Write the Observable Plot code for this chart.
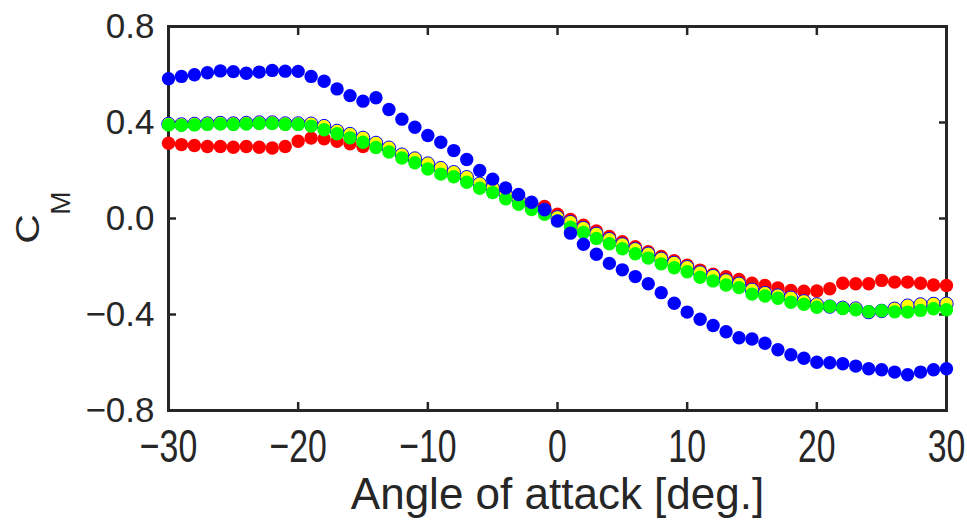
<!DOCTYPE html>
<html><head><meta charset="utf-8">
<script src="https://cdn.jsdelivr.net/npm/d3@7"></script>
<script src="https://cdn.jsdelivr.net/npm/@observablehq/plot@0.6"></script>
<style>body{margin:0;background:#fff} svg{display:block}</style>
</head><body><div id="chart"></div>
<script>
const angles = [-30,-29,-28,-27,-26,-25,-24,-23,-22,-21,-20,-19,-18,-17,-16,-15,-14,-13,-12,-11,-10,-9,-8,-7,-6,-5,-4,-3,-2,-1,0,1,2,3,4,5,6,7,8,9,10,11,12,13,14,15,16,17,18,19,20,21,22,23,24,25,26,27,28,29,30];
const red = [0.314,0.308,0.304,0.300,0.300,0.297,0.300,0.297,0.294,0.300,
  0.322,0.335,0.332,0.322,0.311,0.300,0.300,0.288,0.262,0.245,
  0.225,0.207,0.190,0.168,0.142,0.125,0.100,0.080,0.062,0.050,
  0.018,-0.004,-0.028,-0.052,-0.075,-0.097,-0.118,-0.138,-0.158,-0.176,
  -0.195,-0.215,-0.232,-0.243,-0.254,-0.270,-0.279,-0.289,-0.300,-0.303,
  -0.302,-0.293,-0.270,-0.272,-0.272,-0.258,-0.265,-0.265,-0.270,-0.277,-0.279];
const yellow = [0.394,0.392,0.394,0.396,0.398,0.396,0.398,0.400,0.400,0.396,
  0.396,0.395,0.385,0.365,0.352,0.336,0.315,0.295,0.266,0.250,
  0.229,0.210,0.193,0.172,0.145,0.128,0.102,0.080,0.058,0.036,
  0.005,-0.015,-0.040,-0.064,-0.086,-0.108,-0.128,-0.147,-0.168,-0.185,
  -0.203,-0.225,-0.240,-0.258,-0.272,-0.297,-0.311,-0.321,-0.330,-0.345,
  -0.358,-0.367,-0.372,-0.375,-0.390,-0.385,-0.376,-0.363,-0.358,-0.356,-0.355];
const green = [0.390,0.388,0.390,0.392,0.394,0.392,0.394,0.396,0.396,0.392,
  0.392,0.385,0.370,0.353,0.336,0.318,0.296,0.277,0.252,0.232,
  0.206,0.185,0.174,0.151,0.126,0.108,0.082,0.059,0.037,0.018,
  -0.010,-0.036,-0.058,-0.083,-0.105,-0.126,-0.147,-0.165,-0.189,-0.205,
  -0.222,-0.245,-0.260,-0.277,-0.288,-0.315,-0.323,-0.332,-0.349,-0.357,
  -0.370,-0.366,-0.375,-0.380,-0.388,-0.384,-0.389,-0.390,-0.383,-0.376,-0.380];
const blue = [0.582,0.592,0.599,0.607,0.615,0.612,0.605,0.610,0.617,0.614,
  0.613,0.592,0.572,0.540,0.512,0.489,0.503,0.454,0.414,0.380,
  0.346,0.318,0.283,0.246,0.200,0.164,0.127,0.100,0.068,0.036,
  -0.010,-0.061,-0.107,-0.149,-0.187,-0.214,-0.242,-0.272,-0.309,-0.353,
  -0.390,-0.420,-0.446,-0.472,-0.497,-0.502,-0.520,-0.547,-0.568,-0.582,
  -0.599,-0.601,-0.605,-0.615,-0.626,-0.630,-0.640,-0.651,-0.640,-0.630,-0.626];

const xTicks = [-30,-20,-10,0,10,20,30];
const xTickLabels = ["\u221230","\u221220","\u221210","0","10","20","30"];
const yTicks = [-0.8,-0.4,0,0.4,0.8];
const yTickLabels = ["\u22120.8","\u22120.4","0.0","0.4","0.8"];
const xTitle = "Angle of attack [deg.]";
const yTitleMain = "C";
const yTitleSub = "M";

const ink = "#262626";
const rows = s => angles.map((a, i) => ({angle: a, cm: s[i]}));
const dotOpts = {x: "angle", y: "cm", r: 6.7};

const plot = Plot.plot({
  width: 967, height: 520,
  marginLeft: 168, marginRight: 21, marginTop: 26, marginBottom: 110,
  style: {fontFamily: "'Liberation Sans', Arial, sans-serif", background: "white", color: ink},
  x: {domain: [-30, 30]},
  y: {domain: [-0.8, 0.8]},
  marks: [
    Plot.axisY({anchor: "left", ticks: yTicks, tickSize: -8, tickPadding: 22, strokeWidth: 2.5,
      tickFormat: d => yTickLabels[yTicks.indexOf(d)], fontSize: 35, label: null}),
    Plot.axisY({anchor: "right", ticks: yTicks, tickSize: -8, strokeWidth: 2.5, tickFormat: () => "", label: null}),
    Plot.axisX({anchor: "bottom", ticks: xTicks, tickSize: -8, tickPadding: 26, strokeWidth: 2.5,
      tickFormat: d => xTickLabels[xTicks.indexOf(d)], fontSize: 47, label: null}),
    Plot.axisX({anchor: "top", ticks: xTicks, tickSize: -8, strokeWidth: 2.5, tickFormat: () => "", label: null}),
    Plot.frame({stroke: ink, strokeWidth: 3}),
    Plot.dot(rows(red), {...dotOpts, fill: "#ff0000"}),
    Plot.dot(rows(yellow), {...dotOpts, fill: "#ffff00", stroke: "#0000ff", strokeWidth: 1}),
    Plot.dot(rows(green), {...dotOpts, fill: "#00ff00"}),
    Plot.dot(rows(blue), {...dotOpts, fill: "#0000ff"}),
    Plot.text([xTitle], {frameAnchor: "bottom", text: d => d, dy: 98, lineAnchor: "bottom", fontSize: 44, fill: ink})
  ]
});

// condensed look of x tick labels
d3.select(plot).selectAll('g[aria-label="x-axis tick label"] text').each(function() {
  const t = this.getAttribute("transform") || "";
  this.setAttribute("transform", t + " scale(0.72,1)");
});

// y title C_M
const y0 = plot.scale("y").apply(0);
const svg = d3.select(plot);
svg.append("text")
  .attr("transform", `translate(39,${y0 + 11}) rotate(-90) scale(1.2,1)`)
  .attr("text-anchor", "middle")
  .attr("font-size", 34).attr("fill", ink)
  .attr("font-family", "'Liberation Sans', Arial, sans-serif")
  .text(yTitleMain);
svg.append("text")
  .attr("transform", `translate(70,${y0 - 15}) rotate(-90)`)
  .attr("text-anchor", "middle")
  .attr("font-size", 28).attr("fill", ink)
  .attr("font-family", "'Liberation Sans', Arial, sans-serif")
  .text(yTitleSub);

document.getElementById("chart").append(plot);
</script>
</body></html>
